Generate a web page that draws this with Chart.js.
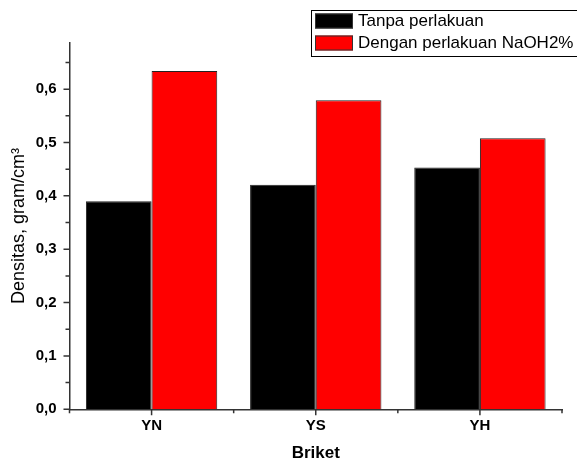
<!DOCTYPE html>
<html>
<head>
<meta charset="utf-8">
<script src="https://cdn.jsdelivr.net/npm/chart.js@4.4.0/dist/chart.umd.min.js"></script>
<style>
  html, body { margin: 0; padding: 0; background: #fff; }
  #wrap { width: 577px; height: 462px; position: relative; }
</style>
</head>
<body>
<div id="wrap"><canvas id="chart"></canvas></div>
<script>
// data
const categories = ['YN', 'YS', 'YH'];
const tanpa = [0.390, 0.421, 0.453];
const dengan = [0.634, 0.579, 0.508];
const seriesNames = ['Tanpa perlakuan', 'Dengan perlakuan NaOH2%'];
const seriesColors = ['#000000', '#ff0000'];

const axisColor = '#333333';
const fontFamily = '"Liberation Sans", Arial, sans-serif';

// ticks drawn by hand: major and minor, outward
const tickPlugin = {
    id: 'ticks',
    afterDraw(chart) {
        const ctx = chart.ctx;
        const xs = chart.scales.x;
        const ys = chart.scales.y;
        const area = chart.chartArea;
        ctx.save();
        ctx.strokeStyle = axisColor;
        ctx.lineWidth = 1.5;
        ctx.beginPath();
        for (let i = 0; i <= 13; i++) {
            const y = ys.getPixelForValue(i * 0.05);
            const len = i % 2 === 0 ? 6 : 4;
            ctx.moveTo(area.left - len, y);
            ctx.lineTo(area.left, y);
        }
        categories.forEach((c, i) => {
            const x = xs.getPixelForValue(i);
            ctx.moveTo(x, area.bottom);
            ctx.lineTo(x, area.bottom + 6);
        });
        for (let i = 0; i <= categories.length; i++) {
            const x = xs.getPixelForValue(i - 0.5);
            ctx.moveTo(x, area.bottom);
            ctx.lineTo(x, area.bottom + 4);
        }
        ctx.stroke();
        ctx.restore();
    }
};

// boxed legend at the top right
const legendPlugin = {
    id: 'boxLegend',
    afterDraw(chart) {
        const ctx = chart.ctx;
        const left = 311.5, top = 10.5, rowH = 22;
        ctx.save();
        ctx.strokeStyle = '#000';
        ctx.lineWidth = 1;
        ctx.strokeRect(left, top, 300, rowH * seriesNames.length + 2);
        ctx.font = '17px ' + fontFamily;
        ctx.textBaseline = 'middle';
        seriesNames.forEach((name, i) => {
            const y = top + 3 + i * rowH;
            ctx.fillStyle = seriesColors[i];
            ctx.fillRect(315, y, 38, 15);
            ctx.strokeStyle = '#333';
            ctx.strokeRect(315.5, y + 0.5, 37, 14);
            ctx.fillStyle = '#000';
            ctx.fillText(name, 358, y + 8);
        });
        ctx.restore();
    }
};

new Chart(document.getElementById('chart'), {
    type: 'bar',
    data: {
        labels: categories,
        datasets: [
            { label: seriesNames[0], data: tanpa, backgroundColor: seriesColors[0], borderColor: '#222', borderWidth: 1 },
            { label: seriesNames[1], data: dengan, backgroundColor: seriesColors[1], borderColor: '#222', borderWidth: 1 }
        ]
    },
    options: {
        responsive: true,
        maintainAspectRatio: false,
        animation: false,
        layout: { padding: { top: 42.7, right: 15, left: 0, bottom: 0 } },
        datasets: { bar: { categoryPercentage: 0.8, barPercentage: 1.0 } },
        plugins: { legend: { display: false }, tooltip: { enabled: false } },
        scales: {
            x: {
                grid: { display: false, drawTicks: true, tickLength: 6 },
                border: { display: true, color: axisColor, width: 1.5 },
                ticks: { color: '#000', padding: 2, font: { family: fontFamily, size: 15, weight: 'bold' } },
                title: {
                    display: true, text: 'Briket', color: '#000',
                    font: { family: fontFamily, size: 17, weight: 'bold', lineHeight: 1 },
                    padding: { top: 0, bottom: 0 }
                },
                afterFit: s => { s.height = 52.7; }
            },
            y: {
                min: 0,
                max: 0.687,
                grid: { display: false, drawTicks: true, tickLength: 6 },
                border: { display: true, color: axisColor, width: 1.5 },
                afterBuildTicks: s => {
                    s.ticks = s.ticks.filter(t => Math.abs(t.value * 10 - Math.round(t.value * 10)) < 1e-6);
                },
                ticks: {
                    stepSize: 0.1,
                    color: '#000',
                    padding: 7,
                    font: { family: fontFamily, size: 15, weight: 'bold' },
                    callback: v => v.toFixed(1).replace('.', ',')
                },
                title: {
                    display: true, text: 'Densitas, gram/cm³', color: '#000',
                    font: { family: fontFamily, size: 18, lineHeight: 1.2 },
                    padding: { top: 8, bottom: 0 }
                },
                afterFit: s => { s.width = 69.5; }
            }
        }
    },
    plugins: [tickPlugin, legendPlugin]
});
</script>
</body>
</html>
